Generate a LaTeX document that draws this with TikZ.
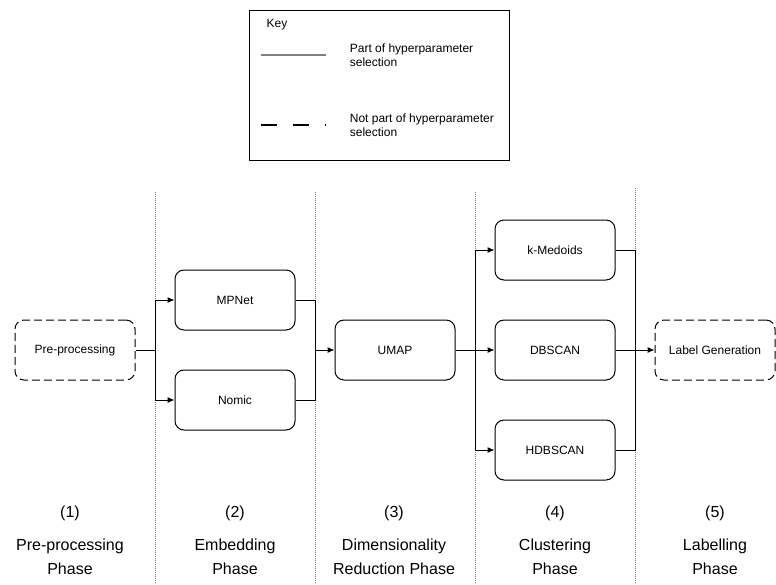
\documentclass[tikz,border=0pt]{standalone}
\usepackage{fontspec}
\setmainfont{Liberation Sans}
\usepackage{tikz}
\usetikzlibrary{arrows.meta}

\begin{document}
\begin{tikzpicture}[
        x=1pt, y=-1pt,
        stage/.style={draw,rounded corners=9pt,minimum width=120pt,minimum height=60pt,
            inner sep=0pt,font=\fontsize{12}{14}\selectfont},
        optional/.style={stage,dash pattern=on 8pt off 4pt},
        phase/.style={align=center,font=\fontsize{16}{24}\selectfont},
        sep/.style={gray,densely dotted,line width=0.6pt},
        keytext/.style={align=left,anchor=west,font=\fontsize{12}{14}\selectfont},
        every path/.append style={line width=1pt}
    ]
        \useasboundingbox (0,0) rectangle (776,584);

        % key
        \node [draw,minimum width=260pt,minimum height=150pt] (key) at (379,85) {};
        \node [font=\fontsize{12}{14}\selectfont] (keytitle) at (277,25) {Key};
        \draw [gray,line width=2pt] (261,55) -- (326,55);
        \node [keytext] (keyin) at (346,55) {Part of hyperparameter\\selection};
        \draw [line width=2pt,dash pattern=on 16pt off 16pt] (261,125) -- (326,125);
        \node [keytext] (keyout) at (346,125) {Not part of hyperparameter\\selection};

        % phase separators
        \foreach \x in {155,315,475}
            \draw [sep] (\x,192) -- (\x,584);
        \draw [sep] (635,188) -- (635,584);

        % stages
        \node [optional] (pre)      at (75,350)  {Pre-processing};
        \node [stage]    (mpnet)    at (235,300) {MPNet};
        \node [stage]    (nomic)    at (235,400) {Nomic};
        \node [stage]    (umap)     at (395,350) {UMAP};
        \node [stage]    (kmed)     at (555,250) {k-Medoids};
        \node [stage]    (dbscan)   at (555,350) {DBSCAN};
        \node [stage]    (hdbscan)  at (555,450) {HDBSCAN};
        \node [optional] (labelgen) at (715,350) {Label Generation};

        \coordinate (j1) at (155,350);
        \coordinate (j2) at (315,350);
        \coordinate (j3) at (475,350);
        \coordinate (j4) at (635,350);

        \tikzset{>={Latex[length=7pt,width=6pt]}}
        \draw [->] (pre.east) -- (j1) |- (mpnet.west);
        \draw [->] (j1) |- (nomic.west);
        \draw (mpnet.east) -| (j2);
        \draw (nomic.east) -| (j2);
        \draw [->] (j2) -- (umap.west);
        \draw [->] (umap.east) -- (j3) |- (kmed.west);
        \draw [->] (j3) -- (dbscan.west);
        \draw [->] (j3) |- (hdbscan.west);
        \draw (kmed.east) -| (j4);
        \draw (hdbscan.east) -| (j4);
        \draw [->] (dbscan.east) -- (labelgen.west);

        % phase labels
        \foreach \x/\n/\t in {70/1/{Pre-processing\\Phase}, 235/2/{Embedding\\Phase},
                394/3/{Dimensionality\\Reduction Phase}, 555/4/{Clustering\\Phase},
                715/5/{Labelling\\Phase}}
            \node [phase] (phase\n) at (\x,540) {(\n)\\[9pt]\t};
    \end{tikzpicture}
\end{document}
